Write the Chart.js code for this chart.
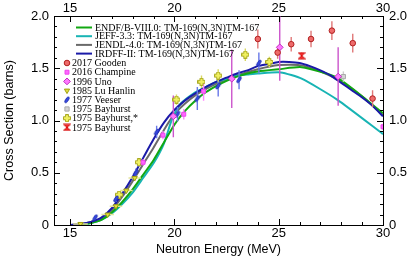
<!DOCTYPE html>
<html>
<head>
<meta charset="utf-8">
<script src="https://cdn.jsdelivr.net/npm/chart.js@4/dist/chart.umd.min.js"></script>
<style>
  html, body { margin: 0; padding: 0; background: #fff; }
</style>
</head>
<body>
<canvas id="myChart" width="415" height="262"></canvas>
<script>
const ctx = document.getElementById('myChart')

// evaluated curves (energy in MeV, cross section in barns)
const endfE = [15, 15.5, 16, 16.5, 17, 17.5, 18, 18.5, 19, 19.5, 20, 20.5, 21, 21.5, 22, 22.5, 23, 23.5, 24, 25, 26.1, 27.8, 30]
const endfS = [0, 0.005, 0.02, 0.05, 0.12, 0.22, 0.34, 0.48, 0.62, 0.79, 0.96, 1.09, 1.19, 1.27, 1.33, 1.38, 1.42, 1.45, 1.47, 1.49, 1.51, 1.41, 1.07]
const jeffE = [15, 15.5, 16, 16.5, 17, 17.5, 18, 18.5, 19, 19.5, 19.9, 20.3, 21, 21.5, 22, 22.5, 23, 23.5, 24, 25.1, 26.1, 27.8, 30]
const jeffS = [0, 0.005, 0.02, 0.05, 0.11, 0.20, 0.31, 0.45, 0.59, 0.78, 1.02, 1.16, 1.27, 1.32, 1.37, 1.40, 1.43, 1.44, 1.45, 1.46, 1.40, 1.20, 0.87]
const jendlE = [15, 15.5, 16, 16.5, 17, 17.5, 18, 18.5, 19, 19.5, 20, 20.5, 21, 21.5, 22, 23, 24, 25, 26, 27, 28, 29, 30]
const jendlS = [0, 0.01, 0.03, 0.06, 0.14, 0.27, 0.42, 0.58, 0.74, 0.91, 1.06, 1.16, 1.24, 1.30, 1.35, 1.43, 1.49, 1.53, 1.53, 1.47, 1.37, 1.23, 1.05]
const irdffE = [15, 15.5, 16, 16.5, 17, 17.5, 18, 18.5, 19, 19.5, 20, 20.5, 21, 21.5, 22, 22.5, 23, 23.5, 24, 24.5, 25, 25.5, 26, 26.5, 27, 27.5, 28, 28.5, 29, 29.5, 30]
const irdffS = [0, 0.01, 0.03, 0.07, 0.16, 0.30, 0.46, 0.64, 0.82, 0.98, 1.10, 1.19, 1.26, 1.32, 1.37, 1.41, 1.45, 1.48, 1.52, 1.54, 1.56, 1.56, 1.55, 1.52, 1.48, 1.43, 1.36, 1.29, 1.22, 1.14, 1.04]

// measurements
const goodenE = [24.0, 24.95, 25.6, 26.55, 27.55, 28.55, 29.5]
const goodenS = [1.78, 1.65, 1.73, 1.78, 1.86, 1.74, 1.21]
const goodenErr = [0.09, 0.06, 0.07, 0.08, 0.09, 0.09, 0.08]
const champineE = [18.5, 19.45, 20.45, 21.4, 30.0]
const champineS = [0.60, 0.86, 1.06, 1.28, 0.94]
const champineErr = [0.03, 0.04, 0.05, 0.09, 0.03]
const unoE = [19.95, 22.75, 25.05, 27.85]
const unoS = [1.04, 1.40, 1.70, 1.42]
const unoErr = [0.20, 0.28, 0.32, 0.28]
const luE = [15.5, 16.8, 17.2, 17.7, 18.1]
const luS = [0.01, 0.10, 0.18, 0.33, 0.45]
const luErrE = [0.35, 0.3, 0.3, 0.3, 0.3]
const veeserE = [16.2, 17.2, 18.15, 19.15, 20.15, 21.1, 22.1, 23.1, 24.05]
const veeserS = [0.07, 0.25, 0.50, 0.89, 1.06, 1.21, 1.33, 1.39, 1.55]
const veeserErr = [0.02, 0.03, 0.04, 0.06, 0.07, 0.11, 0.1, 0.09, 0.1]
const bayGrisE = [28.1]
const bayGrisS = [1.42]
const bayGrisErr = [0.05]
const bayAstE = [17.35, 18.3, 20.1, 21.3, 22.1, 23.4, 24.55]
const bayAstS = [0.29, 0.60, 1.20, 1.37, 1.43, 1.63, 1.56]
const bayAstErr = [0.03, 0.04, 0.05, 0.06, 0.06, 0.06, 0.05]
const bayRojoE = [26.1]
const bayRojoS = [1.62]
const bayRojoErr = [0.03]

const xTicks = [15, 20, 25, 30]
const yTicks = [0, 0.5, 1.0, 1.5, 2.0]

const pares = (xs, ys) => xs.map((x, i) => ({ x: x, y: ys[i] }))

// small canvases used as marker shapes
function marca(draw) {
  const c = document.createElement('canvas')
  c.width = 8; c.height = 8
  draw(c.getContext('2d'))
  return c
}
const veeserMarca = marca(g => {
  g.translate(4, 4); g.rotate(-Math.PI / 3.2)
  g.beginPath(); g.ellipse(0, 0, 3.4, 1.4, 0, 0, Math.PI * 2)
  g.fillStyle = '#3848e0'; g.fill()
  g.strokeStyle = '#2030b0'; g.lineWidth = 0.8; g.stroke()
})
const cruzMarca = marca(g => {
  g.beginPath()
  g.moveTo(2.5, 0.5); g.lineTo(5.5, 0.5); g.lineTo(5.5, 2.5); g.lineTo(7.5, 2.5); g.lineTo(7.5, 5.5)
  g.lineTo(5.5, 5.5); g.lineTo(5.5, 7.5); g.lineTo(2.5, 7.5); g.lineTo(2.5, 5.5); g.lineTo(0.5, 5.5)
  g.lineTo(0.5, 2.5); g.lineTo(2.5, 2.5); g.closePath()
  g.fillStyle = '#f0f060'; g.fill()
  g.strokeStyle = '#a8a820'; g.lineWidth = 1; g.stroke()
})
const relojMarca = marca(g => {
  g.beginPath()
  g.moveTo(0.5, 1); g.lineTo(7.5, 1); g.lineTo(4, 4); g.lineTo(7.5, 7); g.lineTo(0.5, 7); g.lineTo(4, 4); g.closePath()
  g.fillStyle = '#ff3030'; g.fill()
  g.strokeStyle = '#d01010'; g.lineWidth = 1; g.stroke()
})

const curva = (label, xs, ys, color, order) => ({
  type: 'line', label: label, data: pares(xs, ys), borderColor: color, backgroundColor: color,
  borderWidth: 2, pointRadius: 0, tension: 0.2, order: order, curva: true
})
const puntos = (label, xs, ys, estilo, extra) => Object.assign({
  type: 'scatter', label: label, data: pares(xs, ys), pointStyle: estilo, order: 0
}, extra)

const datasets = [
  curva('ENDF/B-VIII.0: TM-169(N,3N)TM-167', endfE, endfS, '#12a812', 2),
  curva('JEFF-3.3: TM-169(N,3N)TM-167', jeffE, jeffS, '#18b4b4', 3),
  curva('JENDL-4.0: TM-169(N,3N)TM-167', jendlE, jendlS, '#6a6a6a', 4),
  curva('IRDFF-II: TM-169(N,3N)TM-167', irdffE, irdffS, '#1a1aa8', 1),
  puntos('2017 Gooden', goodenE, goodenS, 'circle', { pointRadius: 2.8, backgroundColor: '#ee6a6a', borderColor: '#b02020', borderWidth: 1, errY: goodenErr, errColor: '#e07878' }),
  puntos('2016 Champine', champineE, champineS, 'rect', { pointRadius: 2.8, backgroundColor: '#ff66ff', borderColor: '#ee44ee', borderWidth: 1, errY: champineErr, errColor: '#ff88ff' }),
  puntos('1996 Uno', unoE, unoS, 'rectRot', { pointRadius: 3.4, backgroundColor: '#ff77ff', borderColor: '#c030c0', borderWidth: 1, errY: unoErr, errColor: '#cc55cc' }),
  puntos('1985 Lu Hanlin', luE, luS, 'triangle', { pointRadius: 3, rotation: 180, backgroundColor: '#e0e040', borderColor: '#a0a010', borderWidth: 1, errX: luErrE, errColor: '#e4e49a' }),
  puntos('1977 Veeser', veeserE, veeserS, veeserMarca, { pointRadius: 4, errY: veeserErr, errColor: '#6878e8' }),
  puntos('1975 Bayhurst', bayGrisE, bayGrisS, 'rect', { pointRadius: 3, backgroundColor: '#d4d4d4', borderColor: '#aaaaaa', borderWidth: 1, errY: bayGrisErr, errColor: '#cccccc' }),
  puntos('1975 Bayhurst,*', bayAstE, bayAstS, cruzMarca, { pointRadius: 4, errY: bayAstErr, errColor: '#d8d860' }),
  puntos('1975 Bayhurst', bayRojoE, bayRojoS, relojMarca, { pointRadius: 4, errY: bayRojoErr, errColor: '#ff6060' })
]

// error bars, drawn right after the last curve so markers sit on top
const barras = {
  id: 'barras',
  afterDatasetDraw(chart, args) {
    if (args.index !== 3) return
    const c = chart.ctx, a = chart.chartArea, xs = chart.scales.x, ys = chart.scales.y
    c.save()
    c.beginPath(); c.rect(a.left, a.top, a.right - a.left, a.bottom - a.top); c.clip()
    c.lineWidth = 1.4
    chart.data.datasets.forEach(ds => {
      if (!ds.errY && !ds.errX) return
      c.strokeStyle = ds.errColor
      c.beginPath()
      ds.data.forEach((p, i) => {
        const px = xs.getPixelForValue(p.x), py = ys.getPixelForValue(p.y)
        if (ds.errY) {
          c.moveTo(px, ys.getPixelForValue(p.y - ds.errY[i]))
          c.lineTo(px, ys.getPixelForValue(p.y + ds.errY[i]))
        }
        if (ds.errX) {
          c.moveTo(xs.getPixelForValue(p.x - ds.errX[i]), py)
          c.lineTo(xs.getPixelForValue(p.x + ds.errX[i]), py)
        }
      })
      c.stroke()
    })
    c.restore()
  }
}

// inward major/minor ticks on all four sides, then the legend
const marcas = {
  id: 'marcas',
  afterDraw(chart) {
    const c = chart.ctx, a = chart.chartArea, xs = chart.scales.x, ys = chart.scales.y
    c.save()
    c.strokeStyle = '#000'; c.lineWidth = 1
    c.beginPath()
    for (let v = 15; v <= 30; v++) {
      const px = Math.round(xs.getPixelForValue(v)) + 0.5
      const l = v % 5 === 0 ? 6 : 3
      c.moveTo(px, a.bottom); c.lineTo(px, a.bottom - l)
      c.moveTo(px, a.top); c.lineTo(px, a.top + l)
    }
    for (let k = 0; k <= 20; k++) {
      const py = Math.round(ys.getPixelForValue(k / 10)) + 0.5
      const l = k % 5 === 0 ? 6 : 3
      c.moveTo(a.left, py); c.lineTo(a.left + l, py)
      c.moveTo(a.right, py); c.lineTo(a.right - l, py)
    }
    c.stroke()

    // legend
    c.font = '10px "Liberation Serif"'
    c.fillStyle = '#000'
    c.textBaseline = 'middle'
    c.textAlign = 'left'
    let yl = a.top + 11.5
    chart.data.datasets.filter(d => d.curva).forEach(d => {
      c.strokeStyle = d.borderColor; c.lineWidth = 2
      c.beginPath(); c.moveTo(a.left + 22, yl); c.lineTo(a.left + 38, yl); c.stroke()
      c.fillStyle = '#000'
      c.fillText(d.label, a.left + 41, yl + 0.5)
      yl += 8.7
    })
    yl = a.top + 47
    chart.data.datasets.filter(d => !d.curva).forEach(d => {
      const mx = a.left + 13
      if (d.pointStyle instanceof HTMLCanvasElement) {
        c.drawImage(d.pointStyle, mx - 4, yl - 4)
      } else {
        c.fillStyle = d.backgroundColor; c.strokeStyle = d.borderColor; c.lineWidth = 1
        Chart.helpers.drawPoint(c, { pointStyle: d.pointStyle, rotation: d.rotation || 0, radius: d.pointRadius, borderWidth: 1 }, mx, yl)
      }
      c.fillStyle = '#000'
      c.fillText(d.label, a.left + 18, yl + 0.5)
      yl += 9.2
    })
    c.restore()
  }
}

const tickFont = { family: '"Liberation Sans"', size: 13 }
const titleFont = { family: '"Liberation Sans"', size: 12.5 }
const sinRejilla = { display: false, drawTicks: false, tickLength: 0 }

const myChart = new Chart(ctx, {
  data: { datasets: datasets },
  options: {
    responsive: false,
    animation: false,
    layout: { padding: 0 },
    plugins: { legend: { display: false }, tooltip: { enabled: false } },
    scales: {
      x: {
        type: 'linear', position: 'bottom', min: 14.23, max: 30,
        afterBuildTicks: s => { s.ticks = xTicks.map(v => ({ value: v })) },
        afterFit: s => { s.height = 37 },
        grid: sinRejilla,
        border: { display: true, color: '#000', width: 1 },
        ticks: { font: tickFont, color: '#000', padding: 1, maxRotation: 0 },
        title: { display: true, text: 'Neutron Energy (MeV)', font: titleFont, color: '#000', padding: { top: 0, bottom: 5 } }
      },
      x2: {
        type: 'linear', position: 'top', min: 14.23, max: 30,
        afterBuildTicks: s => { s.ticks = xTicks.map(v => ({ value: v })) },
        afterFit: s => { s.height = 16 },
        grid: sinRejilla,
        border: { display: true, color: '#000', width: 1 },
        ticks: { font: tickFont, color: '#000', padding: 0, maxRotation: 0 }
      },
      y: {
        type: 'linear', position: 'left', min: 0, max: 2,
        afterBuildTicks: s => { s.ticks = yTicks.map(v => ({ value: v })) },
        afterFit: s => { s.width = 54 },
        grid: sinRejilla,
        border: { display: true, color: '#000', width: 1 },
        ticks: { font: tickFont, color: '#000', padding: 5, callback: v => v === 0 ? '0' : v.toFixed(1) },
        title: { display: true, text: 'Cross Section (barns)', font: titleFont, color: '#000', padding: { top: 2, bottom: 0 } }
      },
      y2: {
        type: 'linear', position: 'right', min: 0, max: 2,
        afterBuildTicks: s => { s.ticks = yTicks.map(v => ({ value: v })) },
        afterFit: s => { s.width = 32 },
        grid: sinRejilla,
        border: { display: true, color: '#000', width: 1 },
        ticks: { font: tickFont, color: '#000', padding: 6, callback: v => v === 0 ? '0' : v.toFixed(1) }
      }
    }
  },
  plugins: [barras, marcas]
})
</script>
</body>
</html>
